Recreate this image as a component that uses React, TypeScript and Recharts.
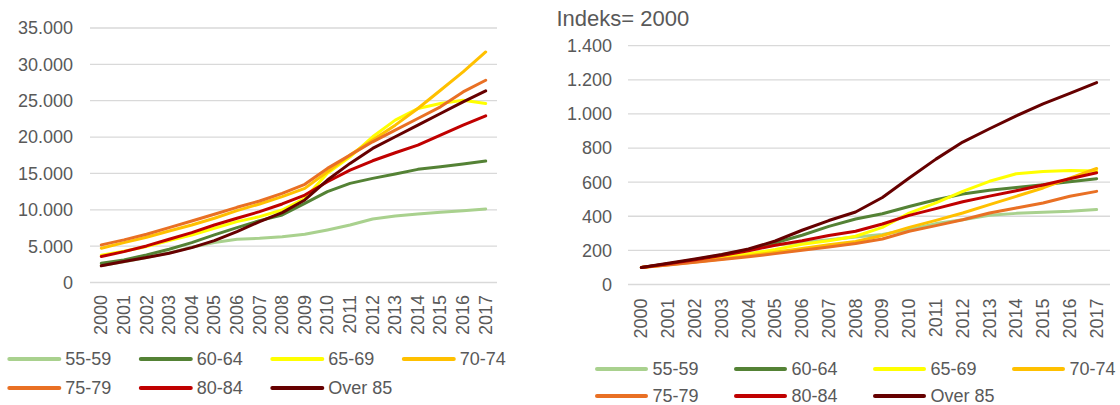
import React from 'react';
import { LineChart, Line, XAxis, YAxis, CartesianGrid } from 'recharts';

const YEARS = ['2000', '2001', '2002', '2003', '2004', '2005', '2006', '2007', '2008', '2009',
  '2010', '2011', '2012', '2013', '2014', '2015', '2016', '2017'];

const GROUPS = ['55-59', '60-64', '65-69', '70-74', '75-79', '80-84', 'Over 85'];
const COLORS = ['#a9d18e', '#548235', '#ffff00', '#ffc000', '#e97024', '#c00000', '#660000'];

// antal personer
const ABS_55_59 = [2350, 2850, 3450, 4080, 4850, 5500, 5950, 6080, 6300, 6630, 7230, 7900, 8740, 9150, 9420, 9650, 9880, 10110];
const ABS_60_64 = [2650, 3110, 3800, 4580, 5490, 6540, 7550, 8510, 9290, 10890, 12490, 13630, 14320, 14910, 15560, 15920, 16290, 16700];
const ABS_65_69 = [3750, 4300, 4950, 5760, 6540, 7460, 8370, 9060, 9970, 11570, 15010, 17290, 20040, 22330, 23930, 24610, 25070, 24610];
const ABS_70_74 = [4710, 5490, 6220, 7090, 7910, 8830, 9880, 10800, 11800, 12950, 15230, 17520, 19580, 21640, 23930, 26440, 28960, 31700];
const ABS_75_79 = [5170, 5860, 6630, 7550, 8460, 9380, 10340, 11210, 12260, 13500, 15690, 17520, 19350, 20950, 22550, 24160, 26210, 27820];
const ABS_80_84 = [3570, 4250, 5030, 5950, 6860, 7910, 8830, 9740, 10800, 12030, 13860, 15460, 16740, 17840, 18890, 20270, 21640, 22920];
const ABS_OVER_85 = [2290, 2880, 3430, 4030, 4800, 5760, 7000, 8370, 9610, 11350, 14090, 16380, 18440, 20040, 21640, 23240, 24840, 26350];

// indeks, 2000 = 100
const IDX_55_59 = [100, 120, 146, 175, 205, 232, 246, 262, 279, 293, 322, 357, 380, 406, 417, 423, 429, 439];
const IDX_60_64 = [100, 120, 143, 170, 203, 245, 289, 341, 384, 415, 457, 497, 530, 552, 569, 585, 602, 620];
const IDX_65_69 = [100, 118, 137, 157, 180, 205, 236, 256, 283, 335, 419, 478, 546, 605, 649, 663, 669, 665];
const IDX_70_74 = [100, 116, 132, 150, 169, 189, 211, 233, 252, 287, 335, 376, 419, 468, 517, 566, 624, 680];
const IDX_75_79 = [100, 115, 130, 146, 163, 181, 201, 220, 240, 267, 312, 345, 380, 419, 449, 478, 517, 546];
const IDX_80_84 = [100, 122, 145, 170, 198, 230, 256, 287, 312, 355, 405, 445, 485, 518, 550, 583, 620, 655];
const IDX_OVER_85 = [100, 125, 150, 176, 208, 255, 318, 375, 425, 510, 624, 735, 835, 913, 989, 1059, 1121, 1184];

const LEFT_TICKS = [0, 5000, 10000, 15000, 20000, 25000, 30000, 35000];
const RIGHT_TICKS = [0, 200, 400, 600, 800, 1000, 1200, 1400];

const ABS_SERIES = [ABS_55_59, ABS_60_64, ABS_65_69, ABS_70_74, ABS_75_79, ABS_80_84, ABS_OVER_85];
const IDX_SERIES = [IDX_55_59, IDX_60_64, IDX_65_69, IDX_70_74, IDX_75_79, IDX_80_84, IDX_OVER_85];

const buildRows = (series: number[][]) =>
  YEARS.map((year, i) => {
    const row: Record<string, string | number> = { year };
    GROUPS.forEach((g, k) => { row[g] = series[k][i]; });
    return row;
  });

const absData = buildRows(ABS_SERIES);
const idxData = buildRows(IDX_SERIES);

const FONT = '"Liberation Sans", Arial, sans-serif';
const TEXT = '#595959';

const fmt = (v: number) => String(v).replace(/\B(?=(\d{3})+(?!\d))/g, '.');

const YearTick = (props: any) => {
  const { x, y, payload } = props;
  return (
    <text
      x={x}
      y={y}
      transform={`rotate(-90 ${x} ${y})`}
      textAnchor="end"
      dominantBaseline="central"
      fontSize={18}
      fontFamily={FONT}
      fill={TEXT}
    >
      {payload.value}
    </text>
  );
};

interface PanelProps {
  data: Record<string, string | number>[];
  left: number;
  width: number;
  top: number;
  bottom: number;
  right: number;
  yWidth: number;
  xGap: number;
  yGap: number;
  ticks: number[];
}

const Panel: React.FC<PanelProps> = ({ data, left, width, top, bottom, right, yWidth, xGap, yGap, ticks }) => {
  // Excel-like category axis: half a band of room on each side
  const half = (width - yWidth - right) / YEARS.length / 2;
  return (
    <div style={{ position: 'absolute', left, top: 0 }}>
      <LineChart width={width} height={405} data={data} margin={{ top, right, bottom: bottom - 60, left: 0 }}>
        <CartesianGrid vertical={false} stroke="#d9d9d9" strokeWidth={1.3} />
        <XAxis
          dataKey="year"
          height={60}
          interval={0}
          padding={{ left: half, right: half }}
          axisLine={false}
          tickLine={false}
          tickSize={0}
          tickMargin={xGap}
          tick={<YearTick />}
        />
        <YAxis
          width={yWidth}
          domain={[ticks[0], ticks[ticks.length - 1]]}
          ticks={ticks}
          axisLine={false}
          tickLine={false}
          tickSize={0}
          tickMargin={yGap}
          tickFormatter={fmt}
          tick={{ fontSize: 18, fill: TEXT, fontFamily: FONT }}
        />
        {GROUPS.map((g, k) => (
          <Line
            key={g}
            dataKey={g}
            type="linear"
            stroke={COLORS[k]}
            strokeWidth={3}
            strokeLinecap="round"
            strokeLinejoin="round"
            dot={false}
            activeDot={false}
            isAnimationActive={false}
          />
        ))}
      </LineChart>
    </div>
  );
};

const LegendBlock: React.FC<{ x0: number; step: number; rows: number[]; len: number; gap: number }> = ({ x0, step, rows, len, gap }) => (
  <>
    {GROUPS.map((g, k) => {
      const col = k % 4;
      const y = rows[Math.floor(k / 4)];
      const x = x0 + col * step;
      return (
        <g key={g}>
          <line x1={x + 2} x2={x + len - 2} y1={y} y2={y} stroke={COLORS[k]} strokeWidth={4} strokeLinecap="round" />
          <text x={x + len + gap} y={y} dominantBaseline="central" fontSize={18} fontFamily={FONT} fill={TEXT}>
            {g}
          </text>
        </g>
      );
    })}
  </>
);

export default function App() {
  return (
    <div style={{ position: 'absolute', left: 0, top: 0, width: 1120, height: 405, background: '#fff', fontFamily: FONT }}>
      <Panel data={absData} left={0} width={510} top={28} bottom={122.5} right={13} yWidth={90} xGap={12.5} yGap={17} ticks={LEFT_TICKS} />
      <Panel data={idxData} left={550} width={570} top={45.7} bottom={120.5} right={10} yWidth={78} xGap={14} yGap={16} ticks={RIGHT_TICKS} />
      <svg width={1120} height={405} style={{ position: 'absolute', left: 0, top: 0, pointerEvents: 'none' }}>
        <text x={556.5} y={26} fontSize={22} fontFamily={FONT} fill={TEXT}>Indeks= 2000</text>
        <LegendBlock x0={7.3} step={131.5} rows={[359, 388]} len={54} gap={4} />
        <LegendBlock x0={595} step={139} rows={[369, 396]} len={53} gap={4.5} />
      </svg>
    </div>
  );
}
